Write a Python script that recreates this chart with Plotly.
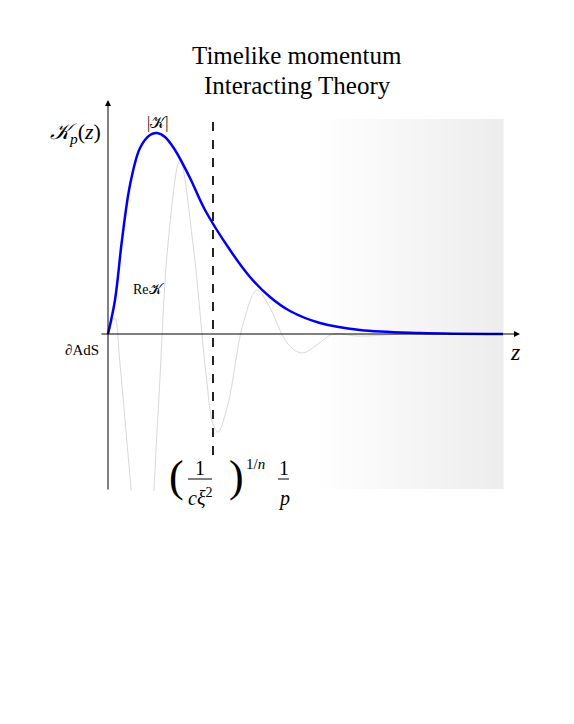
import plotly.graph_objects as go

# |K| curve
abs_z = [0, 0.07, 0.14, 0.22, 0.32, 0.42, 0.49, 0.57, 0.67, 0.82, 0.97, 1.22, 1.42, 1.62, 1.82, 2.12, 2.52, 3.12, 3.95]
abs_k = [0, 0.34, 0.94, 1.49, 1.86, 1.99, 2.01, 1.97, 1.84, 1.56, 1.24, 0.84, 0.57, 0.37, 0.23, 0.11, 0.04, 0.01, 0.0]
# Re K curve
re_z = [0, 0.04, 0.07, 0.12, 0.2, 0.28, 0.35, 0.42, 0.5, 0.6, 0.72, 0.85, 0.98, 1.05, 1.1, 1.2, 1.35, 1.49, 1.6, 1.8, 1.94, 2.1, 2.25, 2.5, 3.0, 3.95]
re_k = [0, 0.12, 0.16, -0.3, -1.2, -2.0, -2.3, -2.0, -0.8, 0.9, 1.74, 0.9, -0.4, -0.9, -0.98, -0.7, 0.1, 0.44, 0.3, -0.1, -0.19, -0.1, 0.0, -0.02, 0.0, 0.0]
dash_z = 1.05

YMIN, YMAX = -1.57, 2.34
def py(y):
    return (y - YMIN) / (YMAX - YMIN)

serif = "Liberation Serif"
fig = go.Figure()
n = 30
x0, x1 = 2.12, 3.95
for i in range(n):
    g = int(255 - 18 * (i + 0.5) / n)
    fig.add_shape(type="rect", x0=x0 + (x1 - x0) * i / n, x1=x0 + (x1 - x0) * (i + 1) / n + 0.005,
                  y0=-1.55, y1=2.15, line_width=0, fillcolor=f"rgb({g},{g},{g})", layer="below")

fig.add_trace(go.Scatter(x=re_z, y=re_k, mode="lines", line=dict(color="#d8d8d8", width=1, shape="spline"), hoverinfo="skip"))
fig.add_trace(go.Scatter(x=abs_z, y=abs_k, mode="lines", line=dict(color="#0000ee", width=2.5, shape="spline"), hoverinfo="skip"))
fig.add_shape(type="line", x0=dash_z, x1=dash_z, y0=-1.21, y1=2.15, line=dict(color="#222", width=2, dash="dash"))
fig.add_shape(type="line", x0=0.8, x1=1.04, y0=-1.45, y1=-1.45, line=dict(color="black", width=1))
fig.add_shape(type="line", x0=1.7, x1=1.81, y0=-1.45, y1=-1.45, line=dict(color="black", width=1))

ann = []
ann.append(dict(x=0, y=2.34, ax=0, ay=-1.57, xref="x", yref="y", axref="x", ayref="y", showarrow=True,
                arrowhead=2, arrowsize=1.2, arrowwidth=1, arrowcolor="black", text=""))
ann.append(dict(x=4.12, y=0, ax=-0.08, ay=0, xref="x", yref="y", axref="x", ayref="y", showarrow=True,
                arrowhead=2, arrowsize=1.2, arrowwidth=1, arrowcolor="black", text=""))
def t(x, y, s, size=16):
    ann.append(dict(x=x, y=py(y), xref="x", yref="paper", text=s, showarrow=False,
                    font=dict(family=serif, size=size, color="black")))
t(1.89, 2.94, "Timelike momentum", 25)
t(1.89, 2.64, "Interacting Theory", 25)
t(-0.33, 2.17, "<i>𝒦<sub>p</sub></i>(<i>z</i>)", 22)
t(0.49, 2.22, "|𝒦|", 16)
t(0.4, 0.45, "Re𝒦", 14)
t(-0.26, -0.16, "∂AdS", 15)
t(4.07, -0.18, "<i>z</i>", 24)
t(0.68, -1.69, "(", 44)
t(1.28, -1.69, ")", 44)
t(0.92, -1.47, "1", 20)
t(0.92, -1.77, "<i>cξ</i><sup>2</sup>", 20)
t(1.47, -1.4, "1/<i>n</i>", 15)
t(1.755, -1.47, "1", 20)
t(1.755, -1.78, "<i>p</i>", 20)
fig.update_layout(annotations=ann, width=574, height=724, margin=dict(l=0, r=0, t=92, b=241),
                  plot_bgcolor="white", paper_bgcolor="white", showlegend=False,
                  xaxis=dict(range=[-1.00, 4.74], visible=False),
                  yaxis=dict(range=[YMIN, YMAX], visible=False))
fig.write_html("out.html")
